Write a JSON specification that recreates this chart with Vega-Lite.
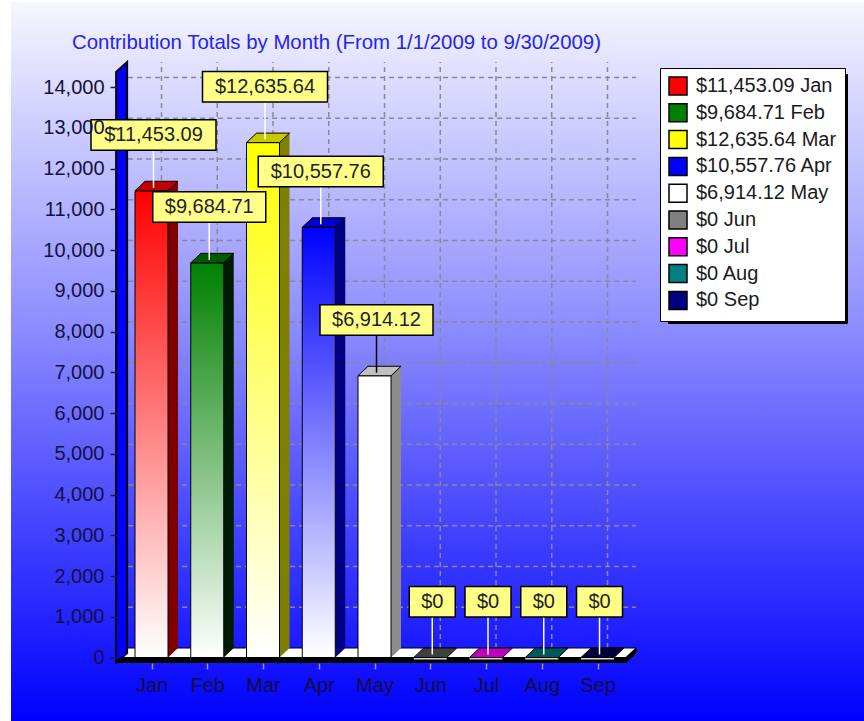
{
  "$schema": "https://vega.github.io/schema/vega-lite/v6.json",
  "width": 853,
  "height": 719,
  "autosize": {"type": "none"},
  "padding": {"left": 11, "top": 2, "right": 0, "bottom": 0},
  "background": "#ffffff",
  "title": {
    "text": "Contribution Totals by Month (From 1/1/2009 to 9/30/2009)",
    "anchor": "start",
    "frame": "group",
    "dx": 61,
    "offset": -67,
    "baseline": "alphabetic",
    "font": "Liberation Sans",
    "fontSize": 20.4,
    "fontWeight": "normal",
    "color": "#2424ee"
  },
  "config": {
    "font": "Liberation Sans",
    "view": {"stroke": null}
  },
  "datasets": {
    "months": [
      {"idx": 1, "month": "Jan", "value": 11453.09, "label": "$11,453.09", "legend": "$11,453.09 Jan"},
      {"idx": 2, "month": "Feb", "value": 9684.71, "label": "$9,684.71", "legend": "$9,684.71 Feb"},
      {"idx": 3, "month": "Mar", "value": 12635.64, "label": "$12,635.64", "legend": "$12,635.64 Mar"},
      {"idx": 4, "month": "Apr", "value": 10557.76, "label": "$10,557.76", "legend": "$10,557.76 Apr"},
      {"idx": 5, "month": "May", "value": 6914.12, "label": "$6,914.12", "legend": "$6,914.12 May"},
      {"idx": 6, "month": "Jun", "value": 0, "label": "$0", "legend": "$0 Jun"},
      {"idx": 7, "month": "Jul", "value": 0, "label": "$0", "legend": "$0 Jul"},
      {"idx": 8, "month": "Aug", "value": 0, "label": "$0", "legend": "$0 Aug"},
      {"idx": 9, "month": "Sep", "value": 0, "label": "$0", "legend": "$0 Sep"}
    ],
    "grid": [
      {"v": 1000}, {"v": 2000}, {"v": 3000}, {"v": 4000}, {"v": 5000}, {"v": 6000}, {"v": 7000},
      {"v": 8000}, {"v": 9000}, {"v": 10000}, {"v": 11000}, {"v": 12000}, {"v": 13000}, {"v": 14000}
    ],
    "frame": [{"part": "frame"}]
  },
  "resolve": {"scale": {"fill": "independent"}},
  "layer": [
    {
      "data": {"name": "frame"},
      "mark": {
        "type": "rect",
        "fill": {
          "gradient": "linear",
          "x1": 0, "y1": 0, "x2": 0, "y2": 1,
          "stops": [
            {"offset": 0, "color": "#f6f6ff"},
            {"offset": 0.46, "color": "#8a8aff"},
            {"offset": 0.72, "color": "#4646ff"},
            {"offset": 1, "color": "#0000ff"}
          ]
        }
      },
      "encoding": {
        "x": {"value": 0},
        "x2": {"value": "width"},
        "y": {"value": 0},
        "y2": {"value": "height"}
      }
    },
    {
      "data": {"name": "grid"},
      "mark": {"type": "rule", "stroke": "#8a8a8a", "strokeWidth": 1.5, "strokeDash": [5, 4], "yOffset": -9.5},
      "encoding": {
        "y": {
          "field": "v", "type": "quantitative",
          "scale": {"domain": [-1558, 16086], "nice": false, "zero": false},
          "axis": {
            "values": [0, 1000, 2000, 3000, 4000, 5000, 6000, 7000, 8000, 9000, 10000, 11000, 12000, 13000, 14000],
            "format": ",d", "title": null, "domain": false, "grid": false, "offset": -106, "zindex": 1,
            "tickSize": 7, "tickColor": "#1c1c44", "tickWidth": 1.5, "labelPadding": 6,
            "labelFont": "Liberation Sans", "labelFontSize": 20, "labelColor": "#12123c",
            "labelOverlap": false, "labelFlush": false
          }
        },
        "x": {"datum": 0.58, "type": "quantitative", "scale": {"domain": [-1.5202, 13.78], "nice": false, "zero": false}},
        "x2": {"datum": 9.69}
      }
    },
    {
      "data": {"name": "months"},
      "mark": {"type": "rule", "stroke": "#8a8a8a", "strokeWidth": 1.5, "strokeDash": [5, 4], "xOffset": 10, "yOffset": -9.5, "y2Offset": -25},
      "encoding": {
        "x": {
          "field": "idx", "type": "quantitative",
          "axis": {
            "values": [1, 2, 3, 4, 5, 6, 7, 8, 9],
            "labelExpr": "['Jan','Feb','Mar','Apr','May','Jun','Jul','Aug','Sep'][datum.value - 1]",
            "title": null, "domain": false, "grid": false, "offset": -58, "zindex": 1,
            "tickSize": 6, "tickColor": "#9a9ab8", "tickWidth": 1.5, "labelPadding": 6,
            "labelFont": "Liberation Sans", "labelFontSize": 20, "labelColor": "#10103a",
            "labelOverlap": false, "labelFlush": false
          }
        },
        "y": {"datum": 0, "type": "quantitative"},
        "y2": {"datum": 14000}
      }
    },
    {
      "data": {"name": "frame"},
      "mark": {"type": "point", "shape": "M -0.076 0 L 5.024 0 L 5.124 -0.095 L 0.034 -0.095 Z", "size": 40000, "filled": true, "fill": "#ffffff", "stroke": "#000000", "strokeWidth": 1, "opacity": 1},
      "encoding": {
        "x": {"datum": 0.5, "type": "quantitative"},
        "y": {"datum": 0, "type": "quantitative"}
      }
    },
    {
      "data": {"name": "frame"},
      "mark": {"type": "point", "shape": "M -0.076 0 L 5.024 0 L 5.124 -0.095 L 5.124 -0.045 L 5.024 0.05 L -0.076 0.05 Z", "size": 40000, "filled": true, "fill": "#000000", "stroke": "#000000", "strokeWidth": 1, "opacity": 1},
      "encoding": {
        "x": {"datum": 0.5, "type": "quantitative"},
        "y": {"datum": 0, "type": "quantitative"}
      }
    },
    {
      "data": {"name": "frame"},
      "mark": {"type": "point", "shape": "M -0.075 0.05 L -0.075 -5.855 L 0.035 -5.955 L 0.035 -0.045 Z", "size": 40000, "filled": true, "fill": "#0000ff", "stroke": "#000000", "strokeWidth": 2, "opacity": 1},
      "encoding": {
        "x": {"datum": 0.5, "type": "quantitative"},
        "y": {"datum": 0, "type": "quantitative"}
      }
    },
    {
      "data": {"name": "months"},
      "transform": [{"filter": "datum.value > 0"}],
      "mark": {"type": "rect", "xOffset": 16.5, "x2Offset": 26.5, "yOffset": -9.5, "y2Offset": -9.5},
      "encoding": {
        "x": {"field": "idx", "type": "quantitative"},
        "x2": {"field": "idx"},
        "y": {"field": "value", "type": "quantitative"},
        "y2": {"datum": 0},
        "fill": {"field": "month", "type": "nominal", "scale": {"domain": ["Jan", "Feb", "Mar", "Apr", "May"], "range": ["#800000", "#001c00", "#808000", "#000080", "#8c8c8c"]}, "legend": null}
      }
    },
    {
      "data": {"name": "months"},
      "transform": [{"filter": "datum.value > 0"}],
      "mark": {"type": "point", "shape": "M 0 0 L 1 -0.95 L 0 -0.95 Z", "size": 400, "filled": true, "opacity": 1, "strokeWidth": 0, "xOffset": 16.5},
      "encoding": {
        "x": {"field": "idx", "type": "quantitative"},
        "y": {"datum": 0, "type": "quantitative"},
        "fill": {"field": "month", "type": "nominal", "scale": {"domain": ["Jan", "Feb", "Mar", "Apr", "May"], "range": ["#800000", "#001c00", "#808000", "#000080", "#8c8c8c"]}, "legend": null}
      }
    },
    {
      "data": {"name": "months"},
      "transform": [{"filter": "datum.idx == 1"}],
      "mark": {"type": "rect", "xOffset": -16.5, "x2Offset": 16.5, "stroke": "#000000", "strokeWidth": 1,
        "fill": {"gradient": "linear", "x1": 0, "y1": 0, "x2": 0, "y2": 1, "stops": [{"offset": 0, "color": "#ff0000"}, {"offset": 1, "color": "#ffffff"}]}},
      "encoding": {
        "x": {"field": "idx", "type": "quantitative"},
        "x2": {"field": "idx"},
        "y": {"field": "value", "type": "quantitative"},
        "y2": {"datum": 0}
      }
    },
    {
      "data": {"name": "months"},
      "transform": [{"filter": "datum.idx == 2"}],
      "mark": {"type": "rect", "xOffset": -16.5, "x2Offset": 16.5, "stroke": "#000000", "strokeWidth": 1,
        "fill": {"gradient": "linear", "x1": 0, "y1": 0, "x2": 0, "y2": 1, "stops": [{"offset": 0, "color": "#008000"}, {"offset": 1, "color": "#ffffff"}]}},
      "encoding": {
        "x": {"field": "idx", "type": "quantitative"},
        "x2": {"field": "idx"},
        "y": {"field": "value", "type": "quantitative"},
        "y2": {"datum": 0}
      }
    },
    {
      "data": {"name": "months"},
      "transform": [{"filter": "datum.idx == 3"}],
      "mark": {"type": "rect", "xOffset": -16.5, "x2Offset": 16.5, "stroke": "#000000", "strokeWidth": 1,
        "fill": {"gradient": "linear", "x1": 0, "y1": 0, "x2": 0, "y2": 1, "stops": [{"offset": 0, "color": "#ffff00"}, {"offset": 1, "color": "#ffffff"}]}},
      "encoding": {
        "x": {"field": "idx", "type": "quantitative"},
        "x2": {"field": "idx"},
        "y": {"field": "value", "type": "quantitative"},
        "y2": {"datum": 0}
      }
    },
    {
      "data": {"name": "months"},
      "transform": [{"filter": "datum.idx == 4"}],
      "mark": {"type": "rect", "xOffset": -16.5, "x2Offset": 16.5, "stroke": "#000000", "strokeWidth": 1,
        "fill": {"gradient": "linear", "x1": 0, "y1": 0, "x2": 0, "y2": 1, "stops": [{"offset": 0, "color": "#0000ff"}, {"offset": 1, "color": "#ffffff"}]}},
      "encoding": {
        "x": {"field": "idx", "type": "quantitative"},
        "x2": {"field": "idx"},
        "y": {"field": "value", "type": "quantitative"},
        "y2": {"datum": 0}
      }
    },
    {
      "data": {"name": "months"},
      "transform": [{"filter": "datum.idx == 5"}],
      "mark": {"type": "rect", "xOffset": -16.5, "x2Offset": 16.5, "stroke": "#000000", "strokeWidth": 1, "fill": "#ffffff"},
      "encoding": {
        "x": {"field": "idx", "type": "quantitative"},
        "x2": {"field": "idx"},
        "y": {"field": "value", "type": "quantitative"},
        "y2": {"datum": 0}
      }
    },
    {
      "data": {"name": "months"},
      "transform": [{"filter": "datum.value == 0"}],
      "mark": {"type": "rect", "xOffset": -16.5, "x2Offset": 16.5, "yOffset": -1, "y2Offset": 2, "fill": "#d4d4d4"},
      "encoding": {
        "x": {"field": "idx", "type": "quantitative"},
        "x2": {"field": "idx"},
        "y": {"field": "value", "type": "quantitative"},
        "y2": {"datum": 0}
      }
    },
    {
      "data": {"name": "months"},
      "mark": {"type": "point", "shape": "M -1 0 L 1 0 L 1.606 -0.576 L -0.394 -0.576 Z", "size": 1089, "filled": true, "opacity": 1, "stroke": "#000000", "strokeWidth": 1},
      "encoding": {
        "x": {"field": "idx", "type": "quantitative"},
        "y": {"field": "value", "type": "quantitative"},
        "fill": {"field": "month", "type": "nominal", "scale": {"domain": ["Jan", "Feb", "Mar", "Apr", "May", "Jun", "Jul", "Aug", "Sep"], "range": ["#c00000", "#005a00", "#c8c800", "#0000c8", "#c0c0c0", "#404040", "#c000c0", "#005858", "#00003a"]}, "legend": null}
      }
    },
    {
      "data": {"name": "months"},
      "mark": {"type": "rule", "strokeWidth": 1.5, "xOffset": 2, "yOffset": -3, "y2Offset": -40.5},
      "encoding": {
        "x": {"field": "idx", "type": "quantitative"},
        "y": {"field": "value", "type": "quantitative"},
        "y2": {"field": "value"},
        "stroke": {"condition": {"test": "datum.month === 'May'", "value": "#000000"}, "value": "#ffffff"}
      }
    },
    {
      "data": {"name": "months"},
      "transform": [{"filter": "length(datum.label) >= 10"}],
      "mark": {"type": "rect", "xOffset": -60.5, "x2Offset": 64.5, "yOffset": -71, "y2Offset": -40.5, "fill": "#ffff88", "stroke": "#000000", "strokeWidth": 1.5},
      "encoding": {
        "x": {"field": "idx", "type": "quantitative"},
        "x2": {"field": "idx"},
        "y": {"field": "value", "type": "quantitative"},
        "y2": {"field": "value"}
      }
    },
    {
      "data": {"name": "months"},
      "transform": [{"filter": "length(datum.label) == 9"}],
      "mark": {"type": "rect", "xOffset": -54.5, "x2Offset": 58.5, "yOffset": -71, "y2Offset": -40.5, "fill": "#ffff88", "stroke": "#000000", "strokeWidth": 1.5},
      "encoding": {
        "x": {"field": "idx", "type": "quantitative"},
        "x2": {"field": "idx"},
        "y": {"field": "value", "type": "quantitative"},
        "y2": {"field": "value"}
      }
    },
    {
      "data": {"name": "months"},
      "transform": [{"filter": "length(datum.label) == 2"}],
      "mark": {"type": "rect", "xOffset": -21, "x2Offset": 25, "yOffset": -71, "y2Offset": -40.5, "fill": "#ffff88", "stroke": "#000000", "strokeWidth": 1.5},
      "encoding": {
        "x": {"field": "idx", "type": "quantitative"},
        "x2": {"field": "idx"},
        "y": {"field": "value", "type": "quantitative"},
        "y2": {"field": "value"}
      }
    },
    {
      "data": {"name": "months"},
      "mark": {"type": "text", "dx": 2, "dy": -55.75, "align": "center", "baseline": "middle", "font": "Liberation Sans", "fontSize": 20, "fill": "#1e1e1e"},
      "encoding": {
        "x": {"field": "idx", "type": "quantitative"},
        "y": {"field": "value", "type": "quantitative"},
        "text": {"field": "label"}
      }
    },
    {
      "data": {"name": "months"},
      "mark": {"type": "point", "size": 0, "filled": true, "stroke": "#000000", "strokeWidth": 1.5},
      "encoding": {
        "color": {
          "field": "legend", "type": "nominal",
          "scale": {
            "domain": ["$11,453.09 Jan", "$9,684.71 Feb", "$12,635.64 Mar", "$10,557.76 Apr", "$6,914.12 May", "$0 Jun", "$0 Jul", "$0 Aug", "$0 Sep"],
            "range": ["#ff0000", "#008000", "#ffff00", "#0000ff", "#ffffff", "#808080", "#ff00ff", "#008080", "#000080"]
          },
          "legend": {
            "title": null, "orient": "none", "legendX": 649, "legendY": 66,
            "symbolType": "square", "symbolSize": 324, "symbolStrokeColor": "#000000", "symbolStrokeWidth": 1.5, "symbolOpacity": 1,
            "labelFont": "Liberation Sans", "labelFontSize": 20, "labelColor": "#1a1a1a", "labelOffset": 8, "labelLimit": 400,
            "rowPadding": 2.8, "padding": 8, "fillColor": "#ffffff", "strokeColor": "#000000", "zindex": 2
          }
        },
        "shape": {
          "field": "legend", "type": "nominal",
          "legend": {
            "title": null, "orient": "none", "legendX": 657, "legendY": 72,
            "symbolSize": 324, "symbolFillColor": "#000000", "symbolStrokeColor": "#000000", "symbolOpacity": 1,
            "labelExpr": "' '",
            "labelFont": "Liberation Sans", "labelFontSize": 20, "labelColor": "#000000", "labelOffset": 143, "labelLimit": 400,
            "rowPadding": 2.8, "padding": 8, "fillColor": "#000000", "strokeColor": "#000000", "zindex": 1
          }
        }
      }
    }
  ]
}
